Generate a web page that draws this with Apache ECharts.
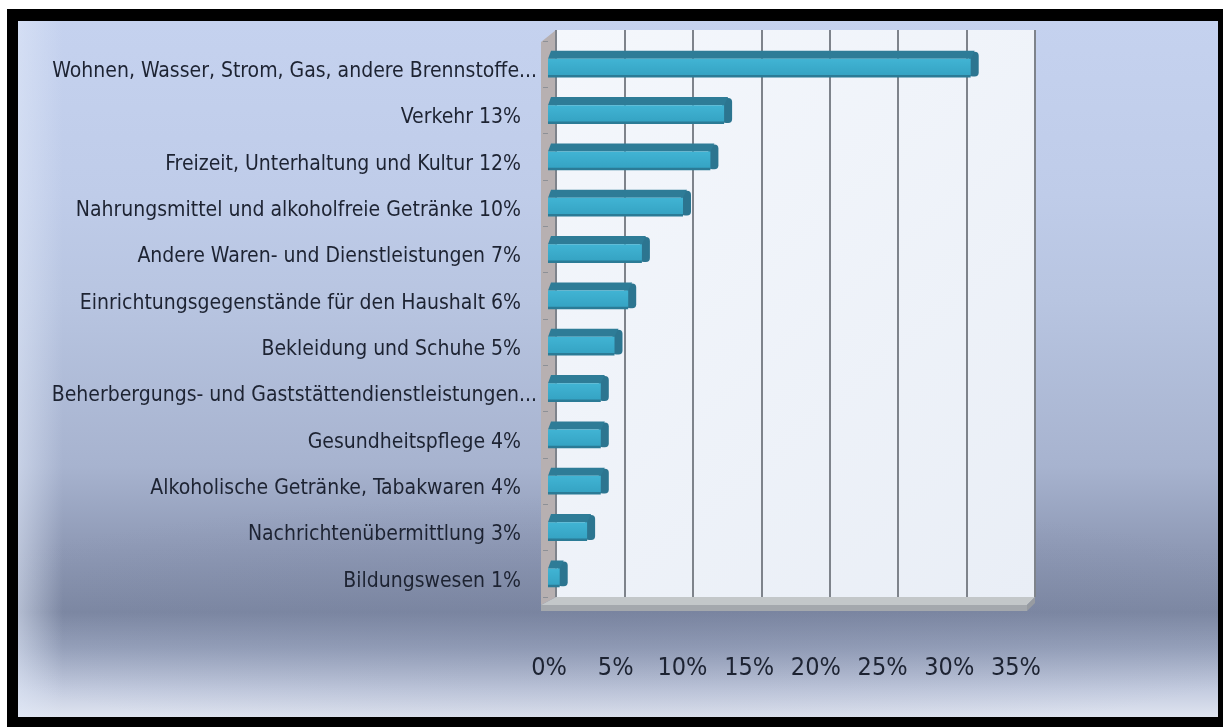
<!DOCTYPE html>
<html>
<head>
<meta charset="utf-8">
<script src="https://cdn.jsdelivr.net/npm/echarts@6/dist/echarts.min.js"></script>
<style>
  html, body { margin: 0; padding: 0; background: #ffffff; overflow: hidden; }
  #frame {
    position: absolute; left: 7px; top: 9px; width: 1216px; height: 718px;
    background: #000000;
  }
  #chart {
    position: absolute; left: 18px; top: 21px; width: 1200px; height: 696px;
    background:
      linear-gradient(to right, rgba(225,233,248,0.55) 0px, rgba(225,233,248,0) 45px),
      radial-gradient(ellipse 60% 18% at 50% 86%, rgba(110,120,150,0.25), rgba(110,120,150,0) 100%),
      linear-gradient(to bottom,
        #c5d2ef 0%, #bfcce9 25%, #b8c5e1 40%, #a7b3cf 64%,
        #8e99b5 76%, #7d88a3 85%, #96a1bb 90%, #c3cbdf 96%, #dfe4f0 100%);
  }
</style>
</head>
<body>
<div id="frame"></div>
<div id="chart"></div>
<script>
// Household consumption shares by category (percent)
const categories = [
  'Wohnen, Wasser, Strom, Gas, andere Brennstoffe...',
  'Verkehr 13%',
  'Freizeit, Unterhaltung und Kultur 12%',
  'Nahrungsmittel und alkoholfreie Getränke 10%',
  'Andere Waren- und Dienstleistungen 7%',
  'Einrichtungsgegenstände für den Haushalt 6%',
  'Bekleidung und Schuhe 5%',
  'Beherbergungs- und Gaststättendienstleistungen...',
  'Gesundheitspflege 4%',
  'Alkoholische Getränke, Tabakwaren 4%',
  'Nachrichtenübermittlung 3%',
  'Bildungswesen 1%'
];
const shares = [31, 13, 12, 10, 7, 6, 5, 4, 4, 4, 3, 1];
const axisMin = 0;
const axisMax = 35;
const axisStep = 5;

// Plot geometry (front plane for bars, back wall for grid lines)
const FRONT = { left: 530, top: 20, width: 479.5, height: 556 };
const WALL = { left: 538, top: 9, width: 479, height: 567 };
const LABELS = { left: 531, top: 20, width: 467, height: 556 };
const NO_BOUNDS = { containLabel: false, outerBoundsMode: 'none' };

const FONT = '"DejaVu Sans Condensed", "Liberation Sans Narrow", "Liberation Sans", sans-serif';
const CATEGORY_LABEL = { fontFamily: FONT, fontSize: 21, color: '#1d2332',
  verticalAlign: 'top', lineHeight: 15 };

// Truncated category names let their trailing dots run past the label column
const categoryItems = categories.map(name => name.endsWith('...')
  ? { value: name, textStyle: Object.assign({ padding: [0, -16, 0, 0] }, CATEGORY_LABEL) }
  : name);

function renderBar(params, api) {
  const v = api.value(0);
  const i = api.value(1);
  const p0 = api.coord([0, i]);
  const p1 = api.coord([v, i]);
  const band = api.size([0, 1])[1];
  const H = band * 0.58;
  const d = H * 0.3;
  const x0 = p0[0], x1 = p1[0];
  const yT = p0[1] - H / 2, yB = p0[1] + H / 2;
  const frontFill = new echarts.graphic.LinearGradient(0, 0, 0, 1, [
    { offset: 0, color: '#41b4d4' },
    { offset: 1, color: '#35a3c3' }
  ]);
  return {
    type: 'group',
    children: [
      { type: 'rect', shape: { x: x1 - 4, y: yT + 1, width: 10, height: H - 2, r: 4 },
        style: { fill: '#2c7590' } },
      { type: 'polygon', shape: { points: [[x0, yT + d], [x0 + 3, yT], [x1 + 2, yT], [x1 - 2, yT + d]] },
        style: { fill: '#2e7c97' } },
      { type: 'rect', shape: { x: x0, y: yT + d, width: Math.max(x1 - x0 - 2, 1), height: H - d - 2 },
        style: { fill: frontFill } },
      { type: 'rect', shape: { x: x0, y: yB - 2.5, width: Math.max(x1 - x0 - 2, 1), height: 2.5 },
        style: { fill: '#2b7b96' } }
    ]
  };
}

const chart = echarts.init(document.getElementById('chart'), null, { renderer: 'canvas' });

// Side wall and floor of the 3D plot box, derived from the grid geometry
const wallL = WALL.left, wallR = WALL.left + WALL.width;
const wallT = WALL.top, wallB = WALL.top + WALL.height;
const frontL = FRONT.left - 7, frontR = wallR - 8;
const depth = 8;
const decor = [
  { type: 'polygon', z: -5,
    shape: { points: [[frontL, wallT + 12], [wallL, wallT], [wallL, wallB], [frontL, wallB + depth]] },
    style: { fill: '#b7b0b1' } },
  { type: 'polygon', z: -5,
    shape: { points: [[wallL, wallB], [wallR, wallB], [frontR, wallB + depth], [frontL, wallB + depth]] },
    style: { fill: '#c3c7c9' } },
  { type: 'rect', z: -5,
    shape: { x: frontL, y: wallB + depth, width: frontR - frontL, height: 6 },
    style: { fill: '#a4a8ad' } },
  { type: 'polygon', z: -5,
    shape: { points: [[frontR, wallB + depth], [wallR, wallB], [wallR, wallB + 6], [frontR, wallB + depth + 6]] },
    style: { fill: '#979ba1' } }
];

chart.setOption({
  animation: false,
  graphic: { elements: decor },
  grid: [
    Object.assign({ show: false }, NO_BOUNDS, FRONT),
    Object.assign({
      show: true, borderWidth: 0,
      backgroundColor: new echarts.graphic.LinearGradient(0, 0, 1, 1, [
        { offset: 0, color: '#f4f7fc' },
        { offset: 1, color: '#e9eef6' }
      ])
    }, NO_BOUNDS, WALL),
    Object.assign({ show: false }, NO_BOUNDS, LABELS)
  ],
  xAxis: [
    { gridIndex: 0, type: 'value', min: axisMin, max: axisMax, interval: axisStep,
      axisLine: { show: false }, axisTick: { show: false }, axisLabel: { show: false },
      splitLine: { show: false } },
    { gridIndex: 1, type: 'value', min: axisMin, max: axisMax, interval: axisStep,
      axisLine: { show: false }, axisTick: { show: false }, axisLabel: { show: false },
      splitLine: { show: true, lineStyle: { color: '#7e838b', width: 2 } } },
    { gridIndex: 2, type: 'value', min: axisMin, max: axisMax, interval: axisStep,
      axisLine: { show: false }, axisTick: { show: false }, splitLine: { show: false },
      axisLabel: { show: true, margin: 59, formatter: '{value}%',
        fontFamily: FONT, fontSize: 25, color: '#1d2332' } }
  ],
  yAxis: [
    { gridIndex: 0, type: 'category', data: categoryItems, inverse: true,
      axisLine: { show: false },
      axisTick: { show: true, length: 5, lineStyle: { color: '#8d9096' } },
      axisLabel: Object.assign({ margin: 27 }, CATEGORY_LABEL) },
    { gridIndex: 1, type: 'value', show: false },
    { gridIndex: 2, type: 'value', show: false }
  ],
  series: [{
    type: 'custom',
    xAxisIndex: 0,
    yAxisIndex: 0,
    renderItem: renderBar,
    encode: { x: 0, y: 1 },
    data: shares.map((v, i) => [v, i])
  }]
});
</script>
</body>
</html>
